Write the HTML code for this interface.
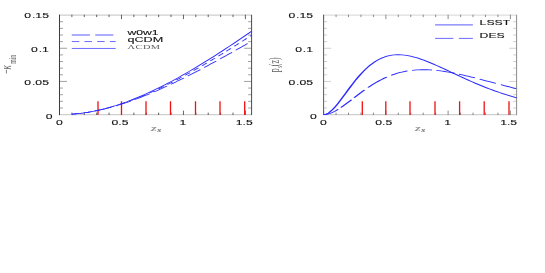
<!DOCTYPE html><html><head><meta charset="utf-8"><style>html,body{margin:0;padding:0;background:#fff}svg{display:block}</style></head><body>
<svg width="545" height="273" viewBox="0 0 545 273">
<rect width="545" height="273" fill="#fff"/>
<path d="M59.5,15.1H251.6" fill="none" stroke="#cecece" stroke-width="1.1"/>
<path d="M59.5,114.6H251.6" fill="none" stroke="#d0d0d0" stroke-width="1.35"/>
<path d="M59.5,107.97h3.5M251.6,107.97h-3.5M59.5,101.33h3.5M251.6,101.33h-3.5M59.5,94.70h3.5M251.6,94.70h-3.5M59.5,88.07h3.5M251.6,88.07h-3.5M59.5,81.43h7.5M251.6,81.43h-7.5M59.5,74.80h3.5M251.6,74.80h-3.5M59.5,68.17h3.5M251.6,68.17h-3.5M59.5,61.53h3.5M251.6,61.53h-3.5M59.5,54.90h3.5M251.6,54.90h-3.5M59.5,48.27h7.5M251.6,48.27h-7.5M59.5,41.63h3.5M251.6,41.63h-3.5M59.5,35.00h3.5M251.6,35.00h-3.5M59.5,28.37h3.5M251.6,28.37h-3.5M59.5,21.73h3.5M251.6,21.73h-3.5" fill="none" stroke="#7a7a7a" stroke-width="0.7"/>
<path d="M59.50,115.0v-4.4M59.50,14.7v4.4M71.89,115.0v-2.4M71.89,14.7v2.4M84.29,115.0v-2.4M84.29,14.7v2.4M96.68,115.0v-2.4M96.68,14.7v2.4M109.07,115.0v-2.4M109.07,14.7v2.4M121.47,115.0v-4.4M121.47,14.7v4.4M133.86,115.0v-2.4M133.86,14.7v2.4M146.25,115.0v-2.4M146.25,14.7v2.4M158.65,115.0v-2.4M158.65,14.7v2.4M171.04,115.0v-2.4M171.04,14.7v2.4M183.44,115.0v-4.4M183.44,14.7v4.4M195.83,115.0v-2.4M195.83,14.7v2.4M208.22,115.0v-2.4M208.22,14.7v2.4M220.62,115.0v-2.4M220.62,14.7v2.4M233.01,115.0v-2.4M233.01,14.7v2.4M245.40,115.0v-4.4M245.40,14.7v4.4" fill="none" stroke="#3c3c3c" stroke-width="0.8"/>
<path d="M59.5,14.799999999999999V115.1" fill="none" stroke="#3c3c3c" stroke-width="1"/>
<path d="M251.6,14.799999999999999V115.1" fill="none" stroke="#484848" stroke-width="1"/>
<path d="M98.00,114.89999999999999V101.3M121.50,114.89999999999999V101.3M146.00,114.89999999999999V101.3M170.50,114.89999999999999V101.3M195.50,114.89999999999999V101.3M220.00,114.89999999999999V101.3M244.70,114.89999999999999V101.3" fill="none" stroke="#f01010" stroke-width="1.3"/>
<g transform="scale(1,0.5)" stroke-linecap="butt" stroke-linejoin="round">
<path d="M71.89,228.30 L75.56,227.69 L79.23,226.92 L82.90,225.99 L86.56,224.91 L90.23,223.68 L93.90,222.29 L97.57,220.75 L101.23,219.07 L104.90,217.24 L108.57,215.27 L112.24,213.16 L115.90,210.91 L119.57,208.53 L123.24,206.02 L126.91,203.39 L130.57,200.63 L134.24,197.76 L137.91,194.77 L141.58,191.67 L145.24,188.46 L148.91,185.15 L152.58,181.73 L156.25,178.22 L159.91,174.61 L163.58,170.92 L167.25,167.13 L170.92,163.26 L174.58,159.31 L178.25,155.28 L181.92,151.18 L185.59,147.01 L189.25,142.76 L192.92,138.45 L196.59,134.08 L200.26,129.64 L203.92,125.15 L207.59,120.60 L211.26,116.00 L214.93,111.34 L218.59,106.64 L222.26,101.89 L225.93,97.09 L229.60,92.26 L233.26,87.38 L236.93,82.46 L240.60,77.51 L244.27,72.52 L247.93,67.49 L251.60,62.44" fill="none" stroke="#2a2aff" stroke-width="1.35"/>
<path d="M71.89,228.31 L72.43,228.22 L72.97,228.13 L73.51,228.04 L74.05,227.95 L74.59,227.87 L75.13,227.78 L75.67,227.68 L76.21,227.57 L76.75,227.46 L77.29,227.35 L77.83,227.24 L78.37,227.13 L78.91,227.01 L79.27,226.94M84.30,225.63 L84.84,225.48 L85.38,225.32 L85.92,225.16 L86.46,225.01 L87.00,224.83 L87.54,224.66 L88.08,224.48 L88.61,224.30 L89.15,224.12 L89.69,223.94 L90.23,223.76 L90.77,223.57 L91.31,223.37 L91.40,223.33M96.35,221.41 L96.89,221.19 L97.42,220.96 L97.96,220.73 L98.50,220.49 L99.04,220.24 L99.58,220.00 L100.12,219.76 L100.66,219.52 L101.20,219.28 L101.74,219.02 L102.28,218.76 L102.82,218.49 L103.09,218.36M107.76,215.98 L108.30,215.70 L108.84,215.41 L109.38,215.11 L109.92,214.81 L110.46,214.51 L111.00,214.20 L111.54,213.90 L112.08,213.60 L112.62,213.29 L113.16,212.97 L113.70,212.65 L114.24,212.33 L114.24,212.33M118.73,209.56 L119.18,209.28 L119.63,208.99 L120.08,208.69 L120.53,208.40 L120.98,208.10 L121.43,207.80 L121.88,207.50 L122.33,207.21 L122.78,206.91 L123.23,206.61 L123.67,206.30 L124.12,205.99 L124.57,205.68 L124.93,205.43M129.25,202.36 L129.70,202.03 L130.15,201.71 L130.60,201.38 L131.05,201.04 L131.50,200.70 L131.95,200.36 L132.40,200.02 L132.84,199.68 L133.29,199.34 L133.74,199.00 L134.19,198.66 L134.64,198.31 L135.09,197.96 L135.09,197.96M139.32,194.60 L139.77,194.23 L140.22,193.87 L140.67,193.50 L141.12,193.14 L141.56,192.77 L142.01,192.39 L142.46,192.01 L142.91,191.64 L143.36,191.26 L143.81,190.88 L144.26,190.50 L144.71,190.13 L144.98,189.90M149.03,186.39 L149.48,185.99 L149.93,185.59 L150.37,185.19 L150.82,184.79 L151.27,184.39 L151.72,183.99 L152.17,183.58 L152.62,183.18 L153.07,182.77 L153.52,182.36 L153.97,181.94 L154.42,181.53 L154.51,181.45M158.38,177.85 L158.83,177.43 L159.27,177.01 L159.72,176.58 L160.17,176.16 L160.62,175.72 L161.07,175.29 L161.52,174.86 L161.97,174.42 L162.42,173.99 L162.87,173.56 L163.32,173.12 L163.68,172.78M167.46,169.05 L167.81,168.69 L168.17,168.33 L168.53,167.97 L168.89,167.60 L169.25,167.24 L169.61,166.88 L169.97,166.52 L170.33,166.16 L170.69,165.79 L171.05,165.43 L171.41,165.06 L171.77,164.69 L172.13,164.32 L172.49,163.95 L172.67,163.77M176.36,159.95 L176.71,159.58 L177.07,159.20 L177.43,158.82 L177.79,158.45 L178.15,158.07 L178.51,157.69 L178.87,157.31 L179.23,156.93 L179.59,156.54 L179.95,156.16 L180.31,155.78 L180.67,155.40 L181.03,155.01 L181.39,154.63 L181.39,154.63M185.08,150.65 L185.43,150.27 L185.79,149.87 L186.15,149.48 L186.51,149.08 L186.87,148.69 L187.23,148.29 L187.59,147.90 L187.95,147.50 L188.31,147.11 L188.67,146.71 L189.03,146.32 L189.39,145.92 L189.75,145.52 L190.02,145.22M193.62,141.20 L193.98,140.80 L194.33,140.39 L194.69,139.99 L195.05,139.58 L195.41,139.17 L195.77,138.77 L196.13,138.36 L196.49,137.95 L196.85,137.54 L197.21,137.13 L197.57,136.72 L197.93,136.31 L198.29,135.90 L198.47,135.69M201.98,131.66 L202.34,131.24 L202.70,130.82 L203.05,130.41 L203.41,129.99 L203.77,129.57 L204.13,129.16 L204.49,128.73 L204.85,128.31 L205.21,127.89 L205.57,127.47 L205.93,127.05 L206.29,126.63 L206.65,126.21 L206.74,126.10M210.16,122.07 L210.52,121.64 L210.88,121.22 L211.24,120.79 L211.60,120.36 L211.95,119.93 L212.31,119.50 L212.67,119.07 L213.03,118.64 L213.39,118.21 L213.75,117.78 L214.11,117.35 L214.47,116.92 L214.83,116.49 L214.92,116.38M218.34,112.26 L218.70,111.82 L219.06,111.38 L219.42,110.94 L219.78,110.51 L220.14,110.07 L220.50,109.63 L220.85,109.19 L221.21,108.75 L221.57,108.32 L221.93,107.88 L222.29,107.44 L222.65,107.00 L223.01,106.56 L223.01,106.56M226.34,102.46 L226.70,102.02 L227.06,101.57 L227.42,101.13 L227.78,100.68 L228.14,100.24 L228.50,99.79 L228.86,99.35 L229.22,98.90 L229.57,98.46 L229.93,98.01 L230.29,97.56 L230.65,97.11 L230.92,96.77M234.34,92.50 L234.70,92.05 L235.06,91.60 L235.42,91.15 L235.78,90.69 L236.14,90.24 L236.50,89.79 L236.86,89.34 L237.22,88.88 L237.58,88.43 L237.94,87.98 L238.30,87.52 L238.65,87.07 L238.83,86.84M242.16,82.62 L242.52,82.16 L242.88,81.70 L243.24,81.25 L243.60,80.79 L243.96,80.33 L244.32,79.87 L244.68,79.41 L245.04,78.95 L245.40,78.49 L245.76,78.03 L246.12,77.57 L246.48,77.11 L246.75,76.77M249.98,72.61 L250.07,72.49 L250.16,72.38 L250.25,72.26 L250.34,72.15 L250.43,72.03 L250.52,71.91 L250.61,71.80 L250.70,71.68 L250.79,71.57 L250.88,71.45 L250.97,71.34 L251.06,71.22 L251.15,71.10 L251.24,70.99 L251.33,70.87 L251.42,70.76 L251.51,70.64 L251.60,70.53 L251.60,70.53" fill="none" stroke="#2a2aff" stroke-width="1.35"/>
<path d="M71.89,228.32 L73.33,228.08 L74.77,227.85 L76.21,227.59 L77.65,227.29 L79.09,227.00 L80.52,226.65 L81.96,226.30 L83.40,225.93 L84.84,225.52 L86.28,225.11 L87.72,224.66 L89.15,224.19 L89.42,224.11M94.55,222.26 L95.90,221.72 L97.24,221.18 L98.59,220.61 L99.94,220.02 L101.29,219.43 L102.64,218.79 L103.99,218.16 L105.34,217.51 L106.68,216.82 L108.03,216.14 L109.38,215.43 L110.73,214.70 L110.91,214.60M115.67,211.92 L116.93,211.17 L118.19,210.41 L119.45,209.65 L120.71,208.85 L121.97,208.05 L123.23,207.25 L124.48,206.42 L125.74,205.58 L127.00,204.74 L128.26,203.87 L129.52,203.00 L130.78,202.12 L130.78,202.12M135.27,198.86 L136.44,197.98 L137.61,197.11 L138.78,196.22 L139.95,195.32 L141.12,194.41 L142.28,193.50 L143.45,192.57 L144.62,191.64 L145.79,190.69 L146.96,189.74 L148.13,188.78 L149.30,187.81 L149.39,187.74M153.61,184.16 L154.69,183.23 L155.77,182.30 L156.85,181.36 L157.93,180.41 L159.00,179.46 L160.08,178.50 L161.16,177.53 L162.24,176.56 L163.32,175.59 L164.40,174.60 L165.48,173.61 L166.56,172.61 L167.01,172.20M171.05,168.41 L172.13,167.39 L173.21,166.36 L174.29,165.33 L175.37,164.29 L176.45,163.24 L177.52,162.20 L178.60,161.15 L179.68,160.09 L180.76,159.03 L181.84,157.96 L182.92,156.89 L183.91,155.90M187.77,152.02 L188.76,151.02 L189.75,150.01 L190.74,149.00 L191.73,147.99 L192.72,146.98 L193.71,145.96 L194.69,144.94 L195.68,143.91 L196.67,142.89 L197.66,141.86 L198.65,140.82 L199.64,139.79 L200.27,139.13M204.13,135.05 L205.12,134.00 L206.11,132.94 L207.10,131.89 L208.09,130.83 L209.08,129.77 L210.07,128.71 L211.06,127.64 L212.04,126.58 L213.03,125.51 L214.02,124.44 L215.01,123.36 L216.00,122.29 L216.36,121.89M220.05,117.87 L221.03,116.78 L222.02,115.70 L223.01,114.61 L224.00,113.52 L224.99,112.42 L225.98,111.33 L226.97,110.24 L227.96,109.14 L228.95,108.04 L229.93,106.94 L230.92,105.84 L231.91,104.74 L232.09,104.53M235.78,100.41 L236.77,99.30 L237.76,98.19 L238.74,97.08 L239.73,95.97 L240.72,94.85 L241.71,93.74 L242.70,92.62 L243.69,91.50 L244.68,90.39 L245.67,89.27 L246.66,88.15 L247.64,87.03 L247.73,86.92M251.42,82.74 L251.51,82.63 L251.60,82.53 L251.60,82.53" fill="none" stroke="#2a2aff" stroke-width="1.35"/>
</g>
<path d="M71.8,35.0H114" stroke="#5a5aff" stroke-width="1" stroke-dasharray="18.1 5.4" fill="none"/>
<path d="M71.8,41.55H115.7" stroke="#5a5aff" stroke-width="0.9" stroke-dasharray="7.5 5.2" fill="none"/>
<path d="M71.8,48.45H115.7" stroke="#5a5aff" stroke-width="0.9" fill="none"/>
<g style="filter:grayscale(1)">
<text transform="translate(127.40,35.30) scale(1.88,1)" font-size="6.5" text-anchor="start" fill="#101010" stroke="#101010" stroke-width="0.09" font-family="Liberation Sans" >w0w1</text>
<text transform="translate(127.40,42.10) scale(1.9457999999999998,1)" font-size="6.5" text-anchor="start" fill="#101010" stroke="#101010" stroke-width="0.09" font-family="Liberation Sans" >qCDM</text>
<text transform="translate(127.60,49.00) scale(1.5,1)" font-size="6.9" text-anchor="start" fill="#5a5a5a" stroke="#5a5a5a" stroke-width="0" font-family="Liberation Serif" letter-spacing="0.3">ΛCDM</text>
<text transform="translate(48.90,18.20) scale(1.88,1)" font-size="6.5" text-anchor="end" fill="#101010" stroke="#101010" stroke-width="0.09" font-family="Liberation Sans" >0<tspan dx="0.45">.15</tspan></text>
<text transform="translate(48.90,51.97) scale(1.88,1)" font-size="6.5" text-anchor="end" fill="#101010" stroke="#101010" stroke-width="0.09" font-family="Liberation Sans" >0<tspan dx="0.45">.1</tspan></text>
<text transform="translate(48.90,84.53) scale(1.88,1)" font-size="6.5" text-anchor="end" fill="#101010" stroke="#101010" stroke-width="0.09" font-family="Liberation Sans" >0<tspan dx="0.45">.05</tspan></text>
<text transform="translate(52.60,118.90) scale(1.88,1)" font-size="6.5" text-anchor="end" fill="#101010" stroke="#101010" stroke-width="0.09" font-family="Liberation Sans" >0</text>
<text transform="translate(59.30,124.80) scale(1.88,1)" font-size="6.5" text-anchor="middle" fill="#101010" stroke="#101010" stroke-width="0.09" font-family="Liberation Sans" >0</text>
<text transform="translate(119.97,124.80) scale(1.88,1)" font-size="6.5" text-anchor="middle" fill="#101010" stroke="#101010" stroke-width="0.09" font-family="Liberation Sans" >0.5</text>
<text transform="translate(182.94,124.80) scale(1.88,1)" font-size="6.5" text-anchor="middle" fill="#101010" stroke="#101010" stroke-width="0.09" font-family="Liberation Sans" >1</text>
<text transform="translate(244.20,124.80) scale(1.88,1)" font-size="6.5" text-anchor="middle" fill="#101010" stroke="#101010" stroke-width="0.09" font-family="Liberation Sans" >1.5</text>
<text transform="translate(313.00,18.20) scale(1.88,1)" font-size="6.5" text-anchor="end" fill="#101010" stroke="#101010" stroke-width="0.09" font-family="Liberation Sans" >0<tspan dx="0.45">.15</tspan></text>
<text transform="translate(313.00,51.97) scale(1.88,1)" font-size="6.5" text-anchor="end" fill="#101010" stroke="#101010" stroke-width="0.09" font-family="Liberation Sans" >0<tspan dx="0.45">.1</tspan></text>
<text transform="translate(313.00,84.53) scale(1.88,1)" font-size="6.5" text-anchor="end" fill="#101010" stroke="#101010" stroke-width="0.09" font-family="Liberation Sans" >0<tspan dx="0.45">.05</tspan></text>
<text transform="translate(316.70,118.90) scale(1.88,1)" font-size="6.5" text-anchor="end" fill="#101010" stroke="#101010" stroke-width="0.09" font-family="Liberation Sans" >0</text>
<text transform="translate(323.40,124.80) scale(1.88,1)" font-size="6.5" text-anchor="middle" fill="#101010" stroke="#101010" stroke-width="0.09" font-family="Liberation Sans" >0</text>
<text transform="translate(383.76,124.80) scale(1.88,1)" font-size="6.5" text-anchor="middle" fill="#101010" stroke="#101010" stroke-width="0.09" font-family="Liberation Sans" >0.5</text>
<text transform="translate(447.62,124.80) scale(1.88,1)" font-size="6.5" text-anchor="middle" fill="#101010" stroke="#101010" stroke-width="0.09" font-family="Liberation Sans" >1</text>
<text transform="translate(508.67,124.80) scale(1.88,1)" font-size="6.5" text-anchor="middle" fill="#101010" stroke="#101010" stroke-width="0.09" font-family="Liberation Sans" >1.5</text>
<text transform="translate(151.00,130.80) scale(1.8,1)" font-size="7.8" text-anchor="start" fill="#858585" stroke="#858585" stroke-width="0.09" font-family="Liberation Serif" font-style="italic">z</text>
<text transform="translate(157.20,132.40) scale(1.9,1)" font-size="5.2" text-anchor="start" fill="#606060" stroke="#606060" stroke-width="0.1" font-family="Liberation Serif" font-style="italic">s</text>
<text transform="translate(415.10,130.80) scale(1.8,1)" font-size="7.8" text-anchor="start" fill="#858585" stroke="#858585" stroke-width="0.09" font-family="Liberation Serif" font-style="italic">z</text>
<text transform="translate(421.30,132.40) scale(1.9,1)" font-size="5.2" text-anchor="start" fill="#606060" stroke="#606060" stroke-width="0.1" font-family="Liberation Serif" font-style="italic">s</text>
<g transform="translate(11.3,74) rotate(-90)" fill="#5a5a5a" font-family="Liberation Serif"><text transform="scale(0.53,1)" font-size="14.8">−</text><text transform="translate(4.6,0) scale(0.6,1)" font-size="14.8" font-style="italic">κ</text><text transform="translate(10.2,4.6) scale(0.54,1)" font-size="10.5">min</text></g>
<g transform="translate(279,72.3) rotate(-90)" fill="#5a5a5a" font-family="Liberation Serif"><text transform="scale(0.53,1)" font-size="14.8">p</text><text transform="translate(4.5,2.6) scale(0.6,1)" font-size="8">s</text><text transform="translate(6.1,0) scale(0.53,1)" font-size="14.8">(z)</text></g>
</g>
<path d="M323.6,15.1H516.6" fill="none" stroke="#cdcdcd" stroke-width="0.85"/>
<path d="M323.6,114.6H516.6" fill="none" stroke="#d0d0d0" stroke-width="1.35"/>
<path d="M323.6,107.97h3.5M516.6,107.97h-3.5M323.6,101.33h3.5M516.6,101.33h-3.5M323.6,94.70h3.5M516.6,94.70h-3.5M323.6,88.07h3.5M516.6,88.07h-3.5M323.6,81.43h7.5M516.6,81.43h-7.5M323.6,74.80h3.5M516.6,74.80h-3.5M323.6,68.17h3.5M516.6,68.17h-3.5M323.6,61.53h3.5M516.6,61.53h-3.5M323.6,54.90h3.5M516.6,54.90h-3.5M323.6,48.27h7.5M516.6,48.27h-7.5M323.6,41.63h3.5M516.6,41.63h-3.5M323.6,35.00h3.5M516.6,35.00h-3.5M323.6,28.37h3.5M516.6,28.37h-3.5M323.6,21.73h3.5M516.6,21.73h-3.5" fill="none" stroke="#bcbcbc" stroke-width="0.7"/>
<path d="M323.60,115.0v-4.4M323.60,14.7v4.4M336.05,115.0v-2.4M336.05,14.7v2.4M348.50,115.0v-2.4M348.50,14.7v2.4M360.95,115.0v-2.4M360.95,14.7v2.4M373.41,115.0v-2.4M373.41,14.7v2.4M385.86,115.0v-4.4M385.86,14.7v4.4M398.31,115.0v-2.4M398.31,14.7v2.4M410.76,115.0v-2.4M410.76,14.7v2.4M423.21,115.0v-2.4M423.21,14.7v2.4M435.66,115.0v-2.4M435.66,14.7v2.4M448.12,115.0v-4.4M448.12,14.7v4.4M460.57,115.0v-2.4M460.57,14.7v2.4M473.02,115.0v-2.4M473.02,14.7v2.4M485.47,115.0v-2.4M485.47,14.7v2.4M497.92,115.0v-2.4M497.92,14.7v2.4M510.37,115.0v-4.4M510.37,14.7v4.4" fill="none" stroke="#707070" stroke-width="0.8"/>
<path d="M323.6,14.799999999999999V115.1" fill="none" stroke="#5c5c5c" stroke-width="1"/>
<path d="M516.6,14.799999999999999V115.1" fill="none" stroke="#8c8c8c" stroke-width="1"/>
<path d="M362.30,114.89999999999999V101.3M385.80,114.89999999999999V101.3M410.00,114.89999999999999V101.3M435.00,114.89999999999999V101.3M459.60,114.89999999999999V101.3M484.20,114.89999999999999V101.3M509.00,114.89999999999999V101.3" fill="none" stroke="#f01010" stroke-width="1.3"/>
<g transform="scale(1,0.5)" stroke-linecap="butt" stroke-linejoin="round">
<path d="M323.60,229.20 L326.04,228.31 L328.49,225.88 L330.93,222.20 L333.37,217.55 L335.82,212.15 L338.26,206.20 L340.70,199.88 L343.14,193.33 L345.59,186.68 L348.03,180.02 L350.47,173.47 L352.92,167.07 L355.36,160.90 L357.80,155.00 L360.25,149.42 L362.69,144.17 L365.13,139.29 L367.57,134.78 L370.02,130.66 L372.46,126.92 L374.90,123.58 L377.35,120.62 L379.79,118.04 L382.23,115.82 L384.68,113.97 L387.12,112.45 L389.56,111.27 L392.01,110.40 L394.45,109.83 L396.89,109.55 L399.33,109.53 L401.78,109.75 L404.22,110.21 L406.66,110.89 L409.11,111.76 L411.55,112.82 L413.99,114.05 L416.44,115.43 L418.88,116.95 L421.32,118.60 L423.76,120.35 L426.21,122.21 L428.65,124.15 L431.09,126.18 L433.54,128.26 L435.98,130.40 L438.42,132.59 L440.87,134.81 L443.31,137.07 L445.75,139.34 L448.19,141.63 L450.64,143.93 L453.08,146.22 L455.52,148.52 L457.97,150.80 L460.41,153.07 L462.85,155.32 L465.30,157.55 L467.74,159.75 L470.18,161.92 L472.63,164.06 L475.07,166.17 L477.51,168.24 L479.95,170.27 L482.40,172.26 L484.84,174.21 L487.28,176.12 L489.73,177.99 L492.17,179.81 L494.61,181.58 L497.06,183.32 L499.50,185.00 L501.94,186.64 L504.38,188.24 L506.83,189.79 L509.27,191.29 L511.71,192.75 L514.16,194.16 L516.60,195.54" fill="none" stroke="#2a2aff" stroke-width="1.7"/>
<path d="M323.50,229.20 L325.13,229.05 L326.77,228.57 L328.40,227.80 L330.03,226.77 L331.67,225.50 L333.30,224.02 L334.93,222.36 L336.57,220.54 L338.20,218.57M340.80,215.20 L341.99,213.57 L343.18,211.91 L344.37,210.20 L345.56,208.46 L346.74,206.70 L347.93,204.92 L349.12,203.11 L350.31,201.30 L351.50,199.48M354.20,195.34 L355.36,193.57 L356.51,191.81 L357.67,190.05 L358.82,188.31 L359.98,186.58 L361.13,184.87 L362.29,183.18 L363.44,181.51 L364.60,179.86M368.00,175.16 L370.11,172.36 L372.22,169.66 L374.33,167.07 L376.44,164.59 L378.56,162.22 L380.67,159.97 L382.78,157.85 L384.89,155.84 L387.00,153.96M391.20,150.58 L393.01,149.27 L394.82,148.05 L396.63,146.92 L398.44,145.87 L400.26,144.91 L402.07,144.03 L403.88,143.24 L405.69,142.53 L407.50,141.89M412.10,140.63 L414.30,140.19 L416.50,139.85 L418.70,139.62 L420.90,139.48 L423.10,139.43 L425.30,139.47 L427.50,139.59 L429.70,139.79 L431.90,140.07M436.30,140.84 L438.38,141.30 L440.46,141.81 L442.53,142.37 L444.61,142.99 L446.69,143.64 L448.77,144.35 L450.84,145.09 L452.92,145.87 L455.00,146.69M459.00,148.35 L460.77,149.11 L462.53,149.90 L464.30,150.71 L466.07,151.53 L467.83,152.36 L469.60,153.21 L471.37,154.08 L473.13,154.95 L474.90,155.83M479.70,158.28 L481.49,159.20 L483.28,160.14 L485.07,161.07 L486.86,162.01 L488.64,162.95 L490.43,163.90 L492.22,164.84 L494.01,165.79 L495.80,166.73M500.90,169.42 L502.61,170.32 L504.32,171.22 L506.03,172.11 L507.74,173.00 L509.46,173.88 L511.17,174.76 L512.88,175.64 L514.59,176.51 L516.30,177.37" fill="none" stroke="#2a2aff" stroke-width="1.7"/>
</g>
<path d="M435.1,24.9H472.9" stroke="#5a5aff" stroke-width="1" fill="none"/>
<path d="M435.1,38.4H472.9" stroke="#5a5aff" stroke-width="0.9" stroke-dasharray="18.3 5.5" fill="none"/>
<g style="filter:grayscale(1)">
<text transform="translate(479.60,25.40) scale(1.88,1)" font-size="6.5" text-anchor="start" fill="#101010" stroke="#101010" stroke-width="0.09" font-family="Liberation Sans" >LSST</text>
<text transform="translate(479.60,38.30) scale(1.88,1)" font-size="6.5" text-anchor="start" fill="#101010" stroke="#101010" stroke-width="0.09" font-family="Liberation Sans" >DES</text>
</g>
</svg></body></html>
